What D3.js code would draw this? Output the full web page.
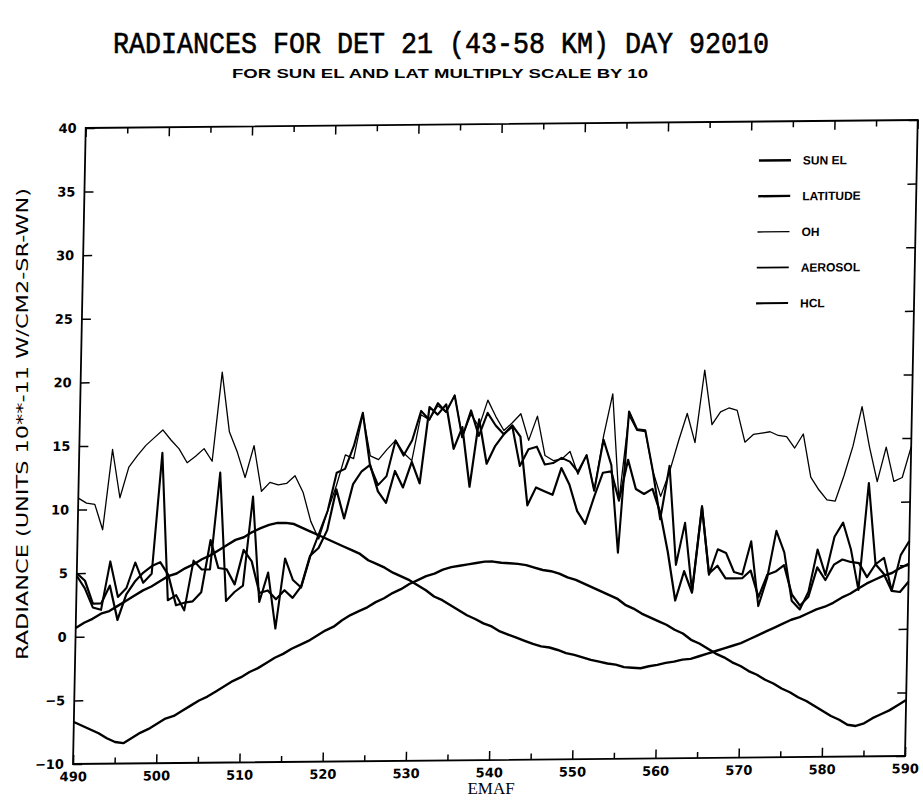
<!DOCTYPE html>
<html><head><meta charset="utf-8">
<script src="https://cdn.jsdelivr.net/npm/d3@7"></script>
<style>body{margin:0;background:#fff;} svg{display:block;}</style>
</head><body><svg id="c" width="923" height="804"></svg>
<script>
// ---------- data ----------
const emaf = d3.range(490, 591);
const xTickLabels = [490, 500, 510, 520, 530, 540, 550, 560, 570, 580, 590];
const xMinorTicks = [495, 505, 515, 525, 535, 545, 555, 565, 575, 585];
const yTickLabels = [-10, -5, 0, 5, 10, 15, 20, 25, 30, 35, 40];
const seriesNames = ["SUN EL", "LATITUDE", "OH", "AEROSOL", "HCL"];

const sunEl = [0.7,1.1,1.4,1.8,2.0,2.4,2.8,3.2,3.6,3.9,
  4.3,4.7,4.9,5.3,5.6,6.0,6.3,6.7,7.1,7.5,
  7.7,8.1,8.4,8.65,8.8,8.8,8.7,8.4,8.1,7.8,
  7.5,7.2,6.9,6.6,6.3,5.8,5.5,5.2,4.8,4.5,
  4.2,3.8,3.4,2.9,2.6,2.2,1.8,1.4,1.1,0.75,
  0.5,0.1,-0.15,-0.4,-0.65,-0.9,-1.1,-1.2,-1.4,-1.65,
  -1.8,-2.0,-2.2,-2.35,-2.5,-2.6,-2.8,-2.85,-2.9,-2.75,
  -2.65,-2.5,-2.4,-2.25,-2.2,-2.0,-1.8,-1.6,-1.4,-1.2,
  -1.0,-0.7,-0.4,-0.1,0.2,0.5,0.8,1.0,1.3,1.6,
  1.8,2.1,2.5,2.8,3.2,3.6,3.9,4.2,4.4,4.8,5.1];

const latitude = [-6.7,-7.0,-7.3,-7.6,-8.0,-8.3,-8.4,-8.0,-7.6,-7.3,
  -6.9,-6.5,-6.3,-5.9,-5.5,-5.1,-4.8,-4.4,-4.0,-3.6,
  -3.3,-2.9,-2.6,-2.2,-1.8,-1.5,-1.1,-0.8,-0.5,-0.1,
  0.3,0.6,1.1,1.5,1.8,2.1,2.5,2.8,3.2,3.5,
  3.9,4.2,4.5,4.7,5.0,5.2,5.3,5.4,5.5,5.6,
  5.6,5.5,5.45,5.4,5.3,5.1,4.9,4.8,4.6,4.3,
  4.1,3.8,3.5,3.2,2.9,2.6,2.1,1.8,1.4,1.1,
  0.8,0.5,0.1,-0.2,-0.7,-1.0,-1.4,-1.8,-2.1,-2.5,
  -2.8,-3.2,-3.5,-3.9,-4.2,-4.6,-4.9,-5.3,-5.6,-6.0,
  -6.4,-6.8,-7.1,-7.5,-7.6,-7.4,-7.0,-6.7,-6.4,-6.0,-5.6];

const oh = [10.9,10.5,10.4,8.4,14.7,10.9,13.3,14.2,15.0,15.6,
  16.2,15.4,14.7,13.6,14.1,14.7,13.7,20.7,16.0,14.4,
  12.4,14.9,11.3,12.0,11.8,11.9,12.5,11.2,8.9,7.5,
  9.7,11.7,14.1,13.8,17.3,14.0,13.7,14.5,15.2,14.2,
  13.6,17.2,16.8,17.9,17.4,18.7,15.4,17.2,16.2,18.3,
  17.0,15.9,16.5,17.2,15.1,17.0,13.9,13.5,13.6,14.2,
  12.4,13.9,11.1,15.4,18.7,10.3,17.0,15.8,15.7,12.6,
  10.6,12.5,14.9,17.1,14.8,20.5,16.2,17.2,17.5,17.3,
  14.8,15.4,15.5,15.6,15.3,15.2,14.3,15.4,12.0,11.0,
  10.2,10.1,12.1,14.4,17.5,14.3,11.6,14.3,11.6,11.9,14.3];

const aerosol = [4.8,3.8,2.3,2.1,5.9,3.1,3.8,5.8,4.2,4.9,
  14.4,2.8,3.2,2.0,5.9,5.2,5.2,12.8,2.7,3.4,
  3.9,10.9,2.6,4.9,0.5,6.0,4.3,3.7,6.1,7.9,
  9.7,12.7,13.0,14.8,17.4,13.2,11.7,12.4,15.2,14.0,
  15.2,17.5,16.8,18.1,17.4,18.7,15.4,17.5,15.5,17.3,
  16.3,15.6,16.2,13.1,14.4,14.6,13.2,13.3,13.7,13.4,
  12.6,13.9,11.1,15.1,13.1,6.2,17.3,15.9,15.8,12.6,
  8.8,13.0,5.2,8.5,3.1,9.8,4.4,6.4,6.1,4.6,
  4.4,7.0,1.9,4.1,7.8,6.1,2.3,1.6,3.0,6.3,
  4.3,7.3,8.4,6.3,3.1,11.5,5.1,5.6,3.0,5.8,6.9];

const hcl = [5.0,4.4,2.6,2.6,4.0,1.3,3.3,4.3,5.0,5.5,
  5.8,4.8,2.4,2.6,2.7,3.4,7.5,5.3,5.2,4.0,
  6.7,5.8,3.3,3.5,2.8,3.5,2.9,3.8,6.2,6.8,
  8.2,11.4,9.1,11.8,12.8,13.3,11.2,10.3,12.8,11.5,
  13.5,11.8,17.8,17.2,18.0,14.5,16.2,11.5,16.8,13.3,
  14.7,15.6,16.3,15.4,10.0,11.4,11.1,10.8,12.9,11.6,
  9.5,8.5,10.6,12.5,12.6,10.3,13.5,11.2,10.8,11.2,
  9.3,6.2,2.4,4.7,3.0,9.7,4.5,5.1,4.1,4.1,
  4.1,4.7,2.6,4.35,4.6,5.1,2.8,1.9,2.6,4.9,
  3.9,5.1,5.5,5.3,5.2,4.1,5.1,4.35,3.0,2.9,3.7];

// ---------- drawing ----------
const X0 = 73, X1 = 905, Y0 = 128, Y1 = 764;
const x = d3.scaleLinear().domain([490, 590]).range([X0, X1]);
const y = d3.scaleLinear().domain([-10, 40]).range([Y1, Y0]);

const svg = d3.select('#c');
svg.append('rect').attr('width', 923).attr('height', 804).attr('fill', '#fff');

// titles
svg.append('text').attr('x', 441).attr('y', 53)
  .attr('text-anchor', 'middle')
  .attr('font-family', "'Liberation Mono', 'DejaVu Sans Mono', monospace").attr('font-size', 30)
  .attr('stroke', '#000').attr('stroke-width', 0.6)
  .attr('textLength', 656).attr('lengthAdjust', 'spacingAndGlyphs')
  .text('RADIANCES FOR DET 21 (43-58 KM) DAY 92010');
svg.append('text').attr('x', 440).attr('y', 78)
  .attr('text-anchor', 'middle')
  .attr('font-family', "'Liberation Sans', sans-serif").attr('font-weight', 'bold').attr('font-size', 13)
  .attr('textLength', 416).attr('lengthAdjust', 'spacingAndGlyphs')
  .text('FOR SUN EL AND LAT MULTIPLY SCALE BY 10');
svg.append('text').attr('x', 491).attr('y', 794).attr('text-anchor', 'middle')
  .attr('font-family', "'Liberation Serif', serif").attr('font-size', 17)
  .text('EMAF');
svg.append('text').attr('transform', 'translate(28,424) rotate(-90)').attr('text-anchor', 'middle')
  .attr('font-family', "'DejaVu Sans', sans-serif").attr('font-size', 16)
  .attr('textLength', 472).attr('lengthAdjust', 'spacingAndGlyphs')
  .text('RADIANCE (UNITS 10**-11 W/CM2-SR-WN)');

// plot group with the slight skew of the scanned page
const g = svg.append('g').attr('transform', 'matrix(1,-0.0096,-0.02,1,15.28,0.70)');

g.append('rect').attr('x', X0).attr('y', Y0).attr('width', X1 - X0).attr('height', Y1 - Y0)
  .attr('fill', 'none').attr('stroke', '#000').attr('stroke-width', 1.8);

const labelFont = "'DejaVu Sans', sans-serif";
function styleAxis(sel) {
  sel.select('.domain').remove();
  sel.selectAll('.tick line').attr('stroke', '#000').attr('stroke-width', 1.5);
  sel.selectAll('.tick text').attr('font-family', labelFont).attr('font-weight', 'bold')
    .attr('font-size', 13).attr('fill', '#000');
}
g.append('g').attr('transform', `translate(0,${Y1})`)
  .call(d3.axisBottom(x).tickValues(xTickLabels).tickSize(-9).tickPadding(8).tickFormat(d3.format('d')))
  .call(styleAxis);
g.append('g').attr('transform', `translate(0,${Y1})`)
  .call(d3.axisBottom(x).tickValues(xMinorTicks).tickSize(-6).tickFormat(''))
  .call(styleAxis);
g.append('g').attr('transform', `translate(0,${Y0})`)
  .call(d3.axisTop(x).tickValues(xTickLabels).tickSize(-9).tickFormat(''))
  .call(styleAxis);
g.append('g').attr('transform', `translate(0,${Y0})`)
  .call(d3.axisTop(x).tickValues(xMinorTicks).tickSize(-6).tickFormat(''))
  .call(styleAxis);
g.append('g').attr('transform', `translate(${X0},0)`)
  .call(d3.axisLeft(y).tickValues(yTickLabels).tickSize(-9).tickPadding(9).tickFormat(d3.format('d')))
  .call(styleAxis);
g.append('g').attr('transform', `translate(${X1},0)`)
  .call(d3.axisRight(y).tickValues(yTickLabels).tickSize(-9).tickFormat(''))
  .call(styleAxis);

// series
const line = d3.line().x((d, i) => x(emaf[i])).y(d => y(d));
const series = [
  {name: 'SUN EL', values: sunEl, w: 2.4},
  {name: 'LATITUDE', values: latitude, w: 2.4},
  {name: 'OH', values: oh, w: 1.3},
  {name: 'AEROSOL', values: aerosol, w: 2.1},
  {name: 'HCL', values: hcl, w: 2.2}
];
g.append('g').selectAll('path').data(series).join('path')
  .attr('d', d => line(d.values))
  .attr('fill', 'none').attr('stroke', '#000')
  .attr('stroke-width', d => d.w).attr('stroke-linejoin', 'round');

// legend
const leg = g.append('g').attr('transform', 'translate(747,167)');
const legW = [2.4, 2.4, 1.4, 1.7, 2.2];
const items = leg.selectAll('g').data(seriesNames).join('g')
  .attr('transform', (d, i) => `translate(0,${i * 35.7})`);
items.append('line').attr('x1', 0).attr('x2', 32).attr('y1', 0).attr('y2', 0)
  .attr('stroke', '#000').attr('stroke-width', (d, i) => legW[i]);
items.append('text').attr('x', 44).attr('y', 4.5)
  .attr('font-family', "'Liberation Sans', sans-serif").attr('font-weight', 'bold').attr('font-size', 12)
  .text(d => d);
</script></body></html>
